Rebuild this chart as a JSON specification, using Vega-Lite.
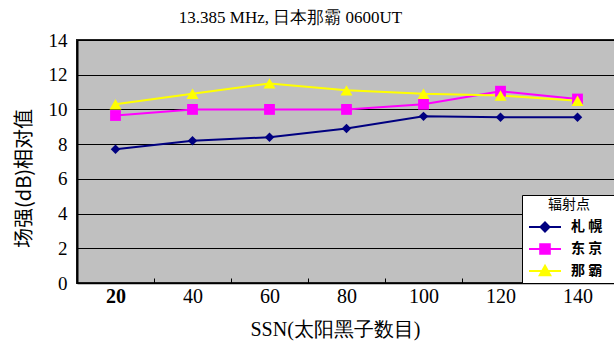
{
  "$schema": "https://vega.github.io/schema/vega-lite/v6.json",
  "width": 539,
  "height": 243,
  "autosize": {"type": "none"},
  "padding": {"left": 77, "top": 40, "right": 0, "bottom": 61},
  "background": "white",
  "title": {
    "text": "13.385 MHz, 日本那霸 0600UT",
    "font": "Liberation Serif",
    "fontSize": 17,
    "fontWeight": "normal",
    "color": "#000",
    "offset": 4,
    "dx": -56
  },
  "config": {
    "view": {"fill": "#C0C0C0", "stroke": "#222", "strokeWidth": 2},
    "legend": {
      "orient": "bottom-right",
      "offset": 0,
      "fillColor": "white",
      "strokeColor": "black",
      "padding": 3,
      "symbolSize": 400,
      "symbolOffset": 9,
      "symbolStrokeWidth": 2,
      "symbolOpacity": 1,
      "labelOffset": 15,
      "rowPadding": 2,
      "titlePadding": 4
    }
  },
  "data": {
    "values": [
      {"ssn": 20, "city": "札幌", "db": 7.7},
      {"ssn": 40, "city": "札幌", "db": 8.2},
      {"ssn": 60, "city": "札幌", "db": 8.4},
      {"ssn": 80, "city": "札幌", "db": 8.9},
      {"ssn": 100, "city": "札幌", "db": 9.6},
      {"ssn": 120, "city": "札幌", "db": 9.55},
      {"ssn": 140, "city": "札幌", "db": 9.55},
      {"ssn": 20, "city": "东京", "db": 9.65},
      {"ssn": 40, "city": "东京", "db": 10.0},
      {"ssn": 60, "city": "东京", "db": 10.0},
      {"ssn": 80, "city": "东京", "db": 10.0},
      {"ssn": 100, "city": "东京", "db": 10.3},
      {"ssn": 120, "city": "东京", "db": 11.05},
      {"ssn": 140, "city": "东京", "db": 10.6},
      {"ssn": 20, "city": "那霸", "db": 10.3},
      {"ssn": 40, "city": "那霸", "db": 10.9},
      {"ssn": 60, "city": "那霸", "db": 11.5},
      {"ssn": 80, "city": "那霸", "db": 11.1},
      {"ssn": 100, "city": "那霸", "db": 10.9},
      {"ssn": 120, "city": "那霸", "db": 10.8},
      {"ssn": 140, "city": "那霸", "db": 10.5}
    ]
  },
  "encoding": {
    "x": {
      "field": "ssn",
      "type": "ordinal",
      "scale": {"type": "band", "paddingInner": 0, "paddingOuter": 0},
      "axis": {
        "title": "SSN(太阳黑子数目)",
        "titleFont": "Liberation Serif",
        "titleFontSize": 20,
        "titleFontWeight": "normal",
        "titleColor": "#000",
        "titlePadding": 13,
        "titleX": 258,
        "labelAngle": 0,
        "labelFont": "Liberation Serif",
        "labelFontSize": 20,
        "labelFontWeight": {"condition": {"test": "datum.value == 20", "value": "bold"}, "value": "normal"},
        "labelColor": "#000",
        "labelPadding": 8,
        "domainColor": "#000",
        "domainWidth": 1.5,
        "ticks": true,
        "tickBand": "extent",
        "tickColor": "#000",
        "tickSize": -5,
        "grid": false
      }
    },
    "y": {
      "field": "db",
      "type": "quantitative",
      "scale": {"domain": [0, 14], "nice": false, "zero": true},
      "axis": {
        "title": "场强(dB)相对值",
        "titleFont": "Noto Sans CJK SC",
        "titleFontSize": 20,
        "titleFontWeight": "normal",
        "titleColor": "#000",
        "titlePadding": 14,
        "titleY": 138,
        "values": [0, 2, 4, 6, 8, 10, 12, 14],
        "labelFont": "Liberation Serif",
        "labelFontSize": 19,
        "labelColor": "#000",
        "labelPadding": 10,
        "ticks": false,
        "domainColor": "#000",
        "domainWidth": 2,
        "grid": true,
        "gridColor": "#000",
        "gridWidth": 1
      }
    }
  },
  "layer": [
    {
      "mark": {"type": "line", "strokeWidth": 2},
      "encoding": {
        "color": {
          "field": "city",
          "type": "nominal",
          "scale": {"domain": ["札幌", "东京", "那霸"], "range": ["#000080", "#FF00FF", "#FFFF00"]},
          "legend": null
        }
      }
    },
    {
      "mark": {"type": "point", "filled": true, "opacity": 1},
      "encoding": {
        "color": {
          "field": "city",
          "type": "nominal",
          "scale": {"domain": ["札幌", "东京", "那霸"], "range": ["#000080", "#FF00FF", "#FFFF00"]},
          "legend": null
        },
        "shape": {
          "field": "city",
          "type": "nominal",
          "scale": {"domain": ["札幌", "东京", "那霸"], "range": ["diamond", "square", "triangle-up"]},
          "legend": null
        },
        "size": {
          "field": "city",
          "type": "nominal",
          "scale": {"domain": ["札幌", "东京", "那霸"], "range": [90, 144, 110]},
          "legend": null
        }
      }
    },
    {
      "mark": {"type": "point", "filled": true, "opacity": 0, "strokeWidth": 2},
      "encoding": {
        "shape": {
          "field": "city",
          "type": "nominal",
          "scale": {
            "domain": ["札幌", "东京", "那霸"],
            "range": [
              "M-1.6,0H1.6M-0.45,0L0,-0.45L0.45,0L0,0.45Z",
              "M-1.6,0H1.6M-0.48,-0.48H0.48V0.48H-0.48Z",
              "M-1.6,0H1.6M0,-0.53L0.53,0.43L-0.53,0.43Z"
            ]
          },
          "legend": {
            "title": "辐射点",
            "titleFont": "Noto Sans CJK SC",
            "titleFontSize": 14,
            "titleFontWeight": "normal",
            "titleColor": "#000",
            "titleAnchor": "middle",
            "labelFont": "Noto Sans CJK SC",
            "labelFontSize": 14,
            "labelFontWeight": "bold",
            "labelColor": "#000",
            "labelExpr": "join(split(datum.label, ''), ' ') + '\u2800'",
            "encoding": {
              "symbols": {
                "fill": {
                  "condition": [
                    {"test": "datum.value === '札幌'", "value": "#000080"},
                    {"test": "datum.value === '东京'", "value": "#FF00FF"}
                  ],
                  "value": "#FFFF00"
                },
                "stroke": {
                  "condition": [
                    {"test": "datum.value === '札幌'", "value": "#000080"},
                    {"test": "datum.value === '东京'", "value": "#FF00FF"}
                  ],
                  "value": "#FFFF00"
                },
                "strokeWidth": {"value": 2},
                "opacity": {"value": 1}
              }
            }
          }
        }
      }
    }
  ],
  "resolve": {"scale": {"shape": "independent", "size": "independent"}}
}
